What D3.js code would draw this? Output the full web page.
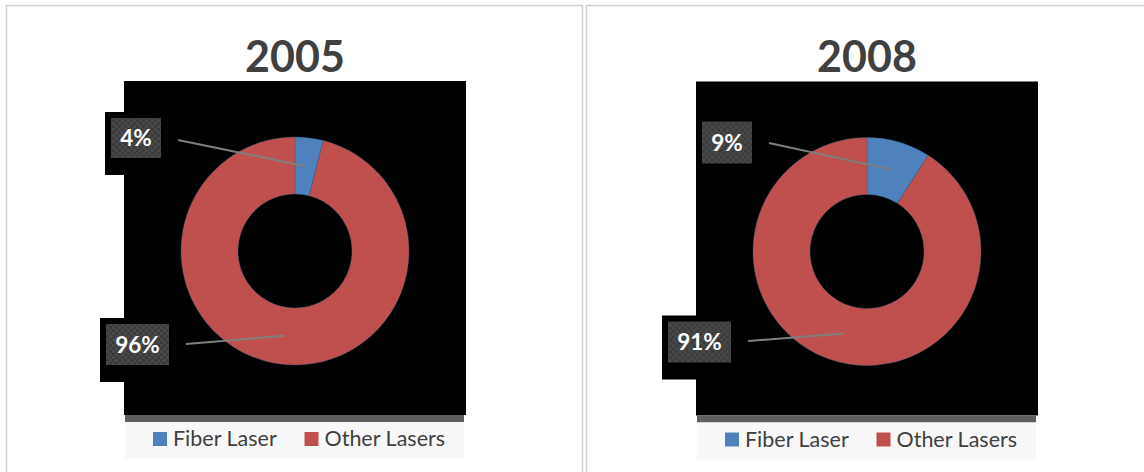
<!DOCTYPE html>
<html><head><meta charset="utf-8">
<script src="https://cdn.jsdelivr.net/npm/d3@7"></script>
<style>html,body{margin:0;padding:0;background:#fff;}svg{display:block;}</style>
</head><body>
<svg id="chart" width="1144" height="472"></svg>
<script>
// ---- data ----
const years = ["2005", "2008"];
const categories = ["Fiber Laser", "Other Lasers"];
const values2005 = [4, 96];
const values2008 = [9, 91];
const labels2005 = ["4%", "96%"];
const labels2008 = ["9%", "91%"];
const colors = ["#4f81bd", "#c0504d"];

const seriesByYear = [values2005, values2008];
const labelsByYear = [labels2005, labels2008];

// ---- layout ----
const panels = [
  {x: 6.5, w: 576, cx: 295, cy: 251},
  {x: 586.5, w: 570, cx: 867, cy: 251.5}
];
// label boxes (relative to donut centre), manually placed as in the original
const labelBoxes = [
  [ {dx: -184, dy: -133, w: 50, h: 40, lx: -117, ly: -111, bg: true},
    {dx: -189, dy: 73, w: 63, h: 41, lx: -109, ly: 93, bg: true} ],
  [ {dx: -165, dy: -130, w: 50, h: 42, lx: -98, ly: -108.5, bg: false},
    {dx: -199, dy: 70, w: 63, h: 41, lx: -119, ly: 89.5, bg: true} ]
];
const outerR = 114, innerR = 57;
const FONT = "Lato, 'Open Sans', 'DejaVu Sans', sans-serif";

const svg = d3.select("#chart");
const defs = svg.append("defs");
const pat = defs.append("pattern").attr("id", "chk").attr("patternUnits", "userSpaceOnUse")
  .attr("width", 6).attr("height", 6);
pat.append("rect").attr("width", 6).attr("height", 6).attr("fill", "#3b3b3b");
pat.append("rect").attr("width", 3).attr("height", 3).attr("fill", "#484848");
pat.append("rect").attr("x", 3).attr("y", 3).attr("width", 3).attr("height", 3).attr("fill", "#484848");

const pie = d3.pie().sort(null).value(d => d);
const arc = d3.arc().innerRadius(innerR).outerRadius(outerR);
const color = d3.scaleOrdinal().domain(categories).range(colors);

years.forEach((year, i) => {
  const p = panels[i];
  const g = svg.append("g");
  // panel border
  g.append("rect").attr("x", p.x).attr("y", 5.5).attr("width", p.w).attr("height", 500)
    .attr("fill", "#fff").attr("stroke", "#cfcfcf").attr("stroke-width", 1.5);
  // title
  g.append("text").attr("x", p.cx).attr("y", 72).attr("text-anchor", "middle")
    .attr("font-family", FONT).attr("font-weight", "bold").attr("font-size", 43)
    .attr("fill", "#404040").text(year);

  const c = g.append("g").attr("transform", `translate(${p.cx},${p.cy})`);
  // plot area (black)
  c.append("rect").attr("x", -171).attr("y", -170).attr("width", 342).attr("height", 334).attr("fill", "#000");
  // dark bar + legend area
  c.append("rect").attr("x", -170).attr("y", 164).attr("width", 339).attr("height", 7).attr("fill", "#5f5f5f");
  c.append("rect").attr("x", -170).attr("y", 171).attr("width", 339).attr("height", 37).attr("fill", "#f8f8f8");

  const arcs = pie(seriesByYear[i]);
  // label background extensions
  arcs.forEach((a, j) => {
    const b = labelBoxes[i][j];
    if (b.bg) c.append("rect").attr("x", b.dx - 6).attr("y", b.dy - 6)
      .attr("width", b.w + 12).attr("height", b.h + 23).attr("fill", "#000");
  });
  // slices
  c.selectAll("path.slice").data(arcs).enter().append("path").attr("class", "slice")
    .attr("d", arc).attr("fill", (d, j) => color(categories[j]))
    .attr("stroke", "#3a5f8a").attr("stroke-width", 0.4);
  // leader lines + labels
  arcs.forEach((a, j) => {
    const b = labelBoxes[i][j];
    const [x2, y2] = arc.centroid(a);
    c.append("line").attr("x1", b.lx).attr("y1", b.ly).attr("x2", x2).attr("y2", y2)
      .attr("stroke", "#7f7f7f").attr("stroke-width", 2);
    c.append("rect").attr("x", b.dx).attr("y", b.dy).attr("width", b.w).attr("height", b.h)
      .attr("fill", "url(#chk)");
    c.append("text").attr("x", b.dx + b.w / 2).attr("y", b.dy + b.h / 2 + 8)
      .attr("text-anchor", "middle").attr("font-family", FONT).attr("font-weight", "bold")
      .attr("font-size", 22.5).attr("fill", "#fff").text(labelsByYear[i][j]);
  });
  // legend
  const legX = [-142, 9.5];
  categories.forEach((cat, j) => {
    c.append("rect").attr("x", legX[j]).attr("y", 181).attr("width", 14).attr("height", 14)
      .attr("fill", color(cat));
    c.append("text").attr("x", legX[j] + 20).attr("y", 195)
      .attr("font-family", FONT).attr("font-size", 21.5).attr("fill", "#404040").text(cat);
  });
});
</script>
</body></html>
